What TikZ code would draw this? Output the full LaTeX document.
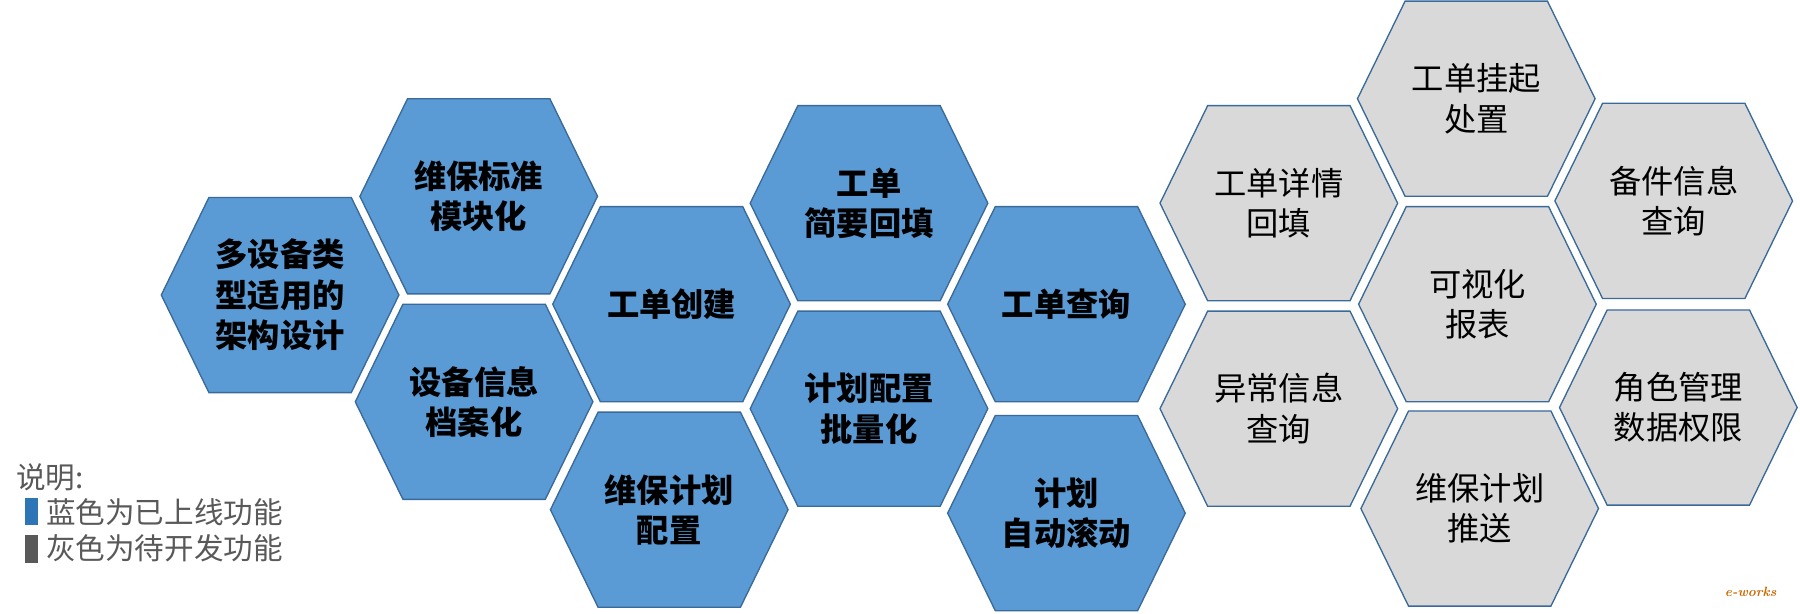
\documentclass[tikz,border=0pt]{standalone}
\usepackage{fontspec}
\newfontfamily\cjk{Noto Sans CJK SC}
\usetikzlibrary{shapes.geometric}
\begin{document}
\begin{tikzpicture}[x=0.3mm,y=-0.3mm,
  hexb/.style={draw=hexborder, line width=1pt, fill=hexblue},
  hexg/.style={draw=hexborder, line width=1pt, fill=hexgray},
  lbl/.style={align=center, font=\cjk\fontsize{24}{30}\selectfont},
  lblb/.style={lbl, font=\cjk\bfseries\fontsize{24}{30}\selectfont},
  leg/.style={anchor=west, text=legtext, font=\cjk\fontsize{22}{24}\selectfont, inner sep=0pt}]
\definecolor{hexblue}{HTML}{5B9BD5}
\definecolor{hexgray}{HTML}{D9D9D9}
\definecolor{hexborder}{HTML}{3A6A9A}
\definecolor{legtext}{HTML}{595959}
\definecolor{legblue}{HTML}{2E75B6}
\useasboundingbox (0,0) rectangle (1568,534);
\newcommand{\hexg}[4]{%
  \draw[#1] (#2-103.5,#3) -- (#2-62,#3-85) -- (#2+62,#3-85) -- (#2+103.5,#3) -- (#2+62,#3+85) -- (#2-62,#3+85) -- cycle;
  \node[#4] at (#2,#3)}
\hexg{hexb}{244}{257}{lblb} (h1) {多设备类\\型适用的\\架构设计};
\hexg{hexb}{417}{171}{lblb} (h2) {维保标准\\模块化};
\hexg{hexb}{413}{350}{lblb} (h3) {设备信息\\档案化};
\hexg{hexb}{585}{265}{lblb} (h4) {工单创建};
\hexg{hexb}{583}{444}{lblb} (h5) {维保计划\\配置};
\hexg{hexb}{757}{177}{lblb} (h6) {工单\\简要回填};
\hexg{hexb}{757}{356}{lblb} (h7) {计划配置\\批量化};
\hexg{hexb}{929}{265}{lblb} (h8) {工单查询};
\hexg{hexb}{929}{447}{lblb} (h9) {计划\\自动滚动};
\hexg{hexg}{1114}{177}{lbl} (g1) {工单详情\\回填};
\hexg{hexg}{1114}{356}{lbl} (g2) {异常信息\\查询};
\hexg{hexg}{1286}{86}{lbl} (g3) {工单挂起\\处置};
\hexg{hexg}{1287}{265}{lbl} (g4) {可视化\\报表};
\hexg{hexg}{1289}{443}{lbl} (g5) {维保计划\\推送};
\hexg{hexg}{1458}{175}{lbl} (g6) {备件信息\\查询};
\hexg{hexg}{1462}{355}{lbl} (g7) {角色管理\\数据权限};
\node[leg] (l0) at (14,416) {说明:};
\fill[legblue] (22,434) rectangle (33,457);
\node[leg] (l1) at (40,446) {蓝色为已上线功能};
\fill[black!65] (22,466) rectangle (33,490);
\node[leg] (l2) at (40,478) {灰色为待开发功能};
\node[font=\itshape\bfseries\fontsize{10}{12}\selectfont, text=orange!80!black] (wm) at (1525,516) {e-works};
\end{tikzpicture}
\end{document}
